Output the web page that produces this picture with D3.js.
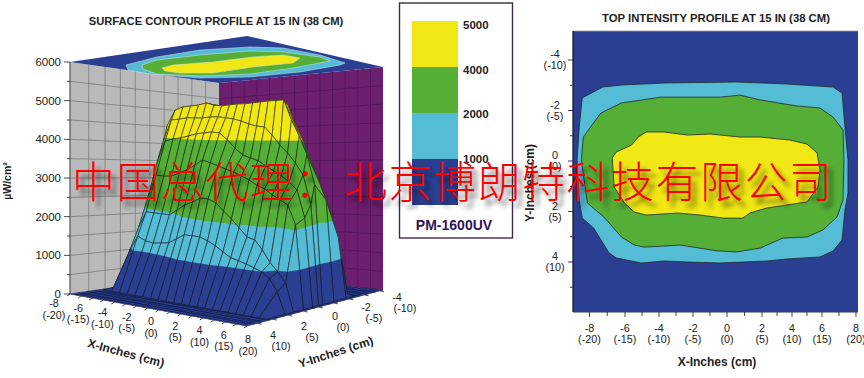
<!DOCTYPE html>
<html>
<head>
<meta charset="utf-8">
<title>PM-1600UV profile</title>
<style>
  html, body { margin: 0; padding: 0; background: #fff; }
  svg { display: block; }
  text { font-family: "Liberation Sans", Arial, sans-serif; fill: #222; }
</style>
<script src="https://d3js.org/d3.v7.min.js"></script>
</head>
<body>
<svg id="chart" width="864" height="378"></svg>
<script>
// ---- data ----
const xTicks = [-8, -6, -4, -2, 0, 2, 4, 6, 8];
const xCm = ["(-20)", "(-15)", "(-10)", "(-5)", "(0)", "(5)", "(10)", "(15)", "(20)"];
const yTicks3d = [-4, -2, 0, 2, 4];
const yCm3d = ["(-10)", "(-5)", "(0)", "(5)", "(10)"];
const zTicks = [0, 1000, 2000, 3000, 4000, 5000, 6000];
const legendLevels = [5000, 4000, 2000, 1000];
const bandLevels = [0, 1000, 2000, 4000, 99999];
const bandColors = ["#2b3f92", "#55bcd5", "#55ae35", "#f0e714"];

// surface mesh: z in uW/cm2 for each (row y, column x)
const surfaceX = [-7, -6.3, -5.6, -4.9, -4.2, -3.5, -2.8, -2.1, -1.4, -0.7, 0, 0.7, 1.4, 2.1, 2.8, 3.5, 4.2, 4.9, 5.6, 6.3, 7, 7.7];
const surfaceY = [3.2, 2.0, 1.45, 0.8, 0.2, -0.2, -0.45, -1.2, -2.0, -2.6];
const surfaceZ = [
  [0,0,0,0,0,0,0,0,0,0,0,0,0,0,0,0,0,0,0,0,0,0],
  [0,945,1340,1250,1230,1270,1310,1450,1590,1600,1610,1540,1450,1330,1210,1170,1120,1060,990,850,550,0],
  [0,1460,1910,1920,1930,1940,2100,2270,2380,2520,2530,2460,2290,2120,1930,1730,1690,1470,1170,970,720,0],
  [0,2210,2790,2800,2840,2950,3070,3230,3400,3360,3320,3270,3230,3170,3100,3000,2940,2820,2730,2630,2150,0],
  [0,3060,3610,3700,3760,3850,3940,4000,4060,4070,3930,3750,3610,3570,3530,3430,3340,3250,3130,2960,2270,0],
  [0,3560,4110,4170,4240,4270,4310,4370,4410,4420,4430,4410,4370,4350,4370,4190,3970,3800,3580,3300,2570,0],
  [0,3920,4340,4460,4520,4580,4670,4650,4670,4730,4790,4830,4890,4950,5010,5060,5110,4630,4250,3800,3060,0],
  [0,3710,4140,4280,4390,4450,4520,4550,4590,4620,4660,4720,4780,4850,4910,4890,4390,4030,3550,3070,2590,0],
  [0,3370,3800,4010,4130,4240,4280,4310,4350,4390,4420,4460,4490,4530,4490,3930,3480,2970,2570,2110,1530,0],
  [0,0,0,0,0,0,0,0,0,0,0,0,0,0,0,0,0,0,0,0,0,0]
];

// contours of the top-down plot, [x in, y in]
const contour1000 = [[-8.41,-2.5],[-7.25,-2.93],[-6.2,-3.01],[-3.71,-3.09],[0.57,-3.13],[3.67,-3.05],[6.65,-2.93],[7.18,-2.69],[7.35,-1.35],[7.53,-0.04],[7.53,1.27],[7.35,1.94],[7.18,3.13],[6.65,3.56],[5.87,3.8],[3.67,3.88],[2.33,3.96],[-0.41,4.04],[-2.32,4],[-3.71,3.96],[-5.04,4.04],[-6.49,3.84],[-6.9,3.64],[-7.77,2.65],[-8.41,2.26],[-8.58,1.54],[-8.7,-0.04],[-8.58,-1.35]];
const contour2000 = [[-8.35,-0.95],[-7.94,-1.35],[-7.36,-1.9],[-6.2,-2.3],[-3.88,-2.53],[-0.41,-2.53],[0.74,-2.61],[1.89,-2.42],[4.33,-2.18],[5.87,-2.1],[6.65,-1.74],[7.24,-1.23],[7.29,-0.04],[7.24,1.54],[6.88,2.22],[6.06,2.73],[5,3.01],[3.4,3.05],[1.89,3.45],[0.57,3.6],[-0.58,3.56],[-2.72,3.33],[-4.87,3.41],[-5.45,3.33],[-6.2,3.01],[-7.19,2.22],[-8.12,1.66],[-8.46,-0.04]];
const contour4000 = [[-6.72,-0.12],[-6.49,-0.36],[-5.62,-0.63],[-5.22,-0.95],[-4.75,-1.15],[-3.71,-1.15],[-2.32,-1.03],[-0.99,-1.07],[0.74,-0.95],[1.89,-0.95],[3.87,-0.83],[5,-0.67],[5.67,-0.32],[5.87,0.36],[5.73,1.03],[5,1.62],[3.67,1.74],[2.33,1.86],[1.31,2.06],[0.91,2.26],[-0.23,2.26],[-1.57,2.14],[-2.9,2.06],[-4.75,2.14],[-5.45,2.02],[-6.03,1.66],[-6.61,1.03]];

// the same map as it shows on the lid of the 3D box
const lidCorners = [[-8,1.08],[1.05,-5],[8,2.25],[-0.38,6]];
const lid1000 = [[-5.14,1.79],[-3.55,-0.09],[-1.35,-1.72],[1.2,-2.43],[2.89,-2.19],[4.78,-0.55],[6.06,1.32],[5.8,1.79],[3.76,3.42],[1.2,4.59],[-1.35,4.83],[-3.91,3.89],[-5.03,2.96]];
const lid2000 = [[-4.32,1.79],[-3.55,0.62],[-1.35,-0.55],[1.2,-1.49],[2.89,-1.26],[4.78,-0.09],[5.29,0.85],[3.4,2.49],[1.2,3.89],[-1.35,4.36],[-3.55,3.89],[-4.27,2.72]];
const lid4000 = [[-3.3,2.49],[-2.73,1.79],[-0.69,1.08],[1.35,-0.09],[2.89,-0.55],[3.76,0.15],[3.4,1.32],[1.35,2.25],[-0.69,3.66],[-2.38,3.66],[-3.14,3.19]];

const svg = d3.select("#chart");
const line = d3.line();
const closed = d3.line().curve(d3.curveLinearClosed);

// ---- 3D panel ----
const zScale = d3.scaleLinear().domain([0, 6000]).range([294, 62]);
const planXx = d3.scaleLinear().domain([-8, 8]).range([70, 247]);
const planXy = d3.scaleLinear().domain([-8, 8]).range([0, 32]);
const planYx = d3.scaleLinear().domain([4.7, -4.2]).range([0, 136]);
const planYy = d3.scaleLinear().domain([4.7, -4.2]).range([0, -36]);
const floorY = (x, y) => 294 + planXy(x) + planYy(y);
const project = (x, y, z) => [planXx(x) + planYx(y), zScale(z) - 294 + floorY(x, y)];
const pxPerUnit = (294 - 62) / 6000;

const leftWall = { x0: 70, x1: 219, top0: 62, top1: 83, bot0: 294, bot1: 272 };
const rightWall = { x0: 219, x1: 383, top0: 83, top1: 67, bot0: 272, bot1: 290 };
function wallPt(w, t, z) {
  const f = z / 6000;
  const top = w.top0 + (w.top1 - w.top0) * t, bot = w.bot0 + (w.bot1 - w.bot0) * t;
  return [w.x0 + (w.x1 - w.x0) * t, bot + (top - bot) * f];
}
function drawWall(w, fill, stroke, cols) {
  const g = svg.append("g");
  g.append("path").attr("fill", fill)
    .attr("d", closed([wallPt(w, 0, 0), wallPt(w, 0, 6000), wallPt(w, 1, 6000), wallPt(w, 1, 0)]));
  d3.range(500, 6000, 500).forEach(z => {
    g.append("path").attr("fill", "none").attr("stroke", stroke).attr("stroke-width", 0.7)
      .attr("d", line([wallPt(w, 0, z), wallPt(w, 1, z)]));
  });
  cols.forEach(t => {
    g.append("path").attr("fill", "none").attr("stroke", stroke).attr("stroke-width", 0.7)
      .attr("d", line([wallPt(w, t, 0), wallPt(w, t, 6000)]));
  });
}
const leftCols = d3.range(1, 10).map(i => Math.pow(i / 10, 0.9));
const rightCols = d3.range(1, 13).map(i => i / 13);
drawWall(leftWall, "#b9b9b9", "#747474", leftCols);
drawWall(rightWall, "#6c1f6f", "#4c1252", rightCols);

// lid of the box
const lidX = d3.scaleLinear().domain([-8, 8]).range([70, 383]);
const lidY = d3.scaleLinear().domain([-5, 6]).range([36, 83]);
const lidPath = pts => closed(pts.map(d => [lidX(d[0]), lidY(d[1])]));
svg.append("path").attr("d", lidPath(lidCorners)).attr("fill", bandColors[0]);
[lid1000, lid2000, lid4000].forEach((c, i) => {
  svg.append("path").attr("d", lidPath(c)).attr("fill", bandColors[i + 1])
    .attr("stroke", "#d8e4ee").attr("stroke-width", 0.5);
});

// floor
const floorCorners = [[-8, 4.7], [8, 4.7], [8, -4.2]].map(d => project(d[0], d[1], 0));
floorCorners.push([219, 272]);
const floorG = svg.append("g");
floorG.append("path").attr("d", closed(floorCorners)).attr("fill", bandColors[0]);
function floorPt(u, v) {
  const [a, b, c, d] = floorCorners;
  const p = [a[0] + (b[0] - a[0]) * u, a[1] + (b[1] - a[1]) * u];
  const q = [d[0] + (c[0] - d[0]) * u, d[1] + (c[1] - d[1]) * u];
  return [p[0] + (q[0] - p[0]) * v, p[1] + (q[1] - p[1]) * v];
}
d3.range(0, 1.001, 1 / 32).forEach(u => {
  floorG.append("path").attr("stroke", "#10183f").attr("stroke-width", 0.6).attr("fill", "none")
    .attr("d", line([floorPt(u, 0), floorPt(u, 1)]));
});
d3.range(0, 1.001, 1 / 18).forEach(v => {
  floorG.append("path").attr("stroke", "#10183f").attr("stroke-width", 0.6).attr("fill", "none")
    .attr("d", line([floorPt(0, v), floorPt(1, v)]));
});

// surface cells, back to front
function meshVertex(r, c) {
  const x = surfaceX[c], y = surfaceY[r], z = surfaceZ[r][c];
  const fy = floorY(x, y);
  // upper bands run flat across the face in the picture, so lean them to screen height
  const w = Math.max(0, Math.min(1, (z - 2000) / 2000));
  const p = project(x, y, z);
  return { x: p[0], y: p[1], fy: fy, lev: z + w * (295 - fy) / pxPerUnit };
}
function clipLevel(poly, level, keepAbove) {
  const out = [];
  poly.forEach((a, i) => {
    const b = poly[(i + 1) % poly.length];
    const ina = keepAbove ? a.lev >= level : a.lev <= level;
    const inb = keepAbove ? b.lev >= level : b.lev <= level;
    if (ina) out.push(a);
    if (ina !== inb) {
      const t = (level - a.lev) / (b.lev - a.lev);
      out.push({ x: a.x + (b.x - a.x) * t, y: a.y + (b.y - a.y) * t, lev: level });
    }
  });
  return out;
}
const cells = [];
for (let r = 0; r < surfaceY.length - 1; r++) {
  for (let c = 0; c < surfaceX.length - 1; c++) {
    const quad = [meshVertex(r, c), meshVertex(r, c + 1), meshVertex(r + 1, c + 1), meshVertex(r + 1, c)];
    cells.push({ quad: quad, depth: d3.mean(quad, d => d.fy) });
  }
}
cells.sort((a, b) => a.depth - b.depth);
const surfaceG = svg.append("g");
cells.forEach(cell => {
  bandColors.forEach((color, i) => {
    let poly = clipLevel(cell.quad, bandLevels[i], true);
    if (poly.length) poly = clipLevel(poly, bandLevels[i + 1], false);
    if (poly.length > 2) {
      surfaceG.append("path").attr("fill", color).attr("stroke", color).attr("stroke-width", 0.3)
        .attr("d", closed(poly.map(d => [d.x, d.y])));
    }
  });
  surfaceG.append("path").attr("fill", "none").attr("stroke", "#14181c").attr("stroke-width", 0.6)
    .attr("d", closed(cell.quad.map(d => [d.x, d.y])));
});

// 3D axes
svg.append("line").attr("x1", 70).attr("x2", 70).attr("y1", zScale(0)).attr("y2", zScale(6000))
  .attr("stroke", "#555").attr("stroke-width", 1.2);
d3.range(0, 6001, 500).forEach(z => {
  svg.append("line").attr("x1", z % 1000 ? 67 : 64).attr("x2", 70)
    .attr("y1", zScale(z)).attr("y2", zScale(z)).attr("stroke", "#333").attr("stroke-width", 0.9);
});
svg.selectAll(".ztick").data(zTicks).enter().append("text").attr("class", "ztick")
  .attr("x", 61).attr("y", d => zScale(d) + 4).attr("text-anchor", "end")
  .attr("font-size", 11.5).text(d => d);
svg.append("text").attr("transform", "translate(11,181) rotate(-90)").attr("text-anchor", "middle")
  .attr("font-size", 10.5).attr("font-weight", "bold").text("µW/cm²");

d3.range(-8, 8.01, 1).forEach(x => {
  const a = project(x, 4.7, 0);
  svg.append("line").attr("x1", a[0]).attr("y1", a[1]).attr("x2", a[0] - 3).attr("y2", a[1] + 2)
    .attr("stroke", "#222").attr("stroke-width", 0.8);
});
d3.range(-4, 4.01, 1).forEach(y => {
  const a = project(8, y, 0);
  svg.append("line").attr("x1", a[0]).attr("y1", a[1]).attr("x2", a[0] + 4).attr("y2", a[1] + 1)
    .attr("stroke", "#222").attr("stroke-width", 0.8);
});
const xLabelX = d3.scaleLinear().domain([-8, 8]).range([54, 248]);
const xLabelY = d3.scaleLinear().domain([-8, 8]).range([307, 343]);
xTicks.forEach((t, i) => {
  svg.append("text").attr("x", xLabelX(t)).attr("y", xLabelY(t)).attr("text-anchor", "middle").attr("font-size", 10.8).text(t);
  svg.append("text").attr("x", xLabelX(t)).attr("y", xLabelY(t) + 11.5).attr("text-anchor", "middle").attr("font-size", 10.8).text(xCm[i]);
});
const yLabelX = d3.scaleLinear().domain([-4, 4]).range([397, 273]);
const yLabelY = d3.scaleLinear().domain([-4, 4]).range([301, 339]);
yTicks3d.forEach((t, i) => {
  svg.append("text").attr("x", yLabelX(t)).attr("y", yLabelY(t)).attr("text-anchor", "middle").attr("font-size", 10.8).text(t);
  svg.append("text").attr("x", yLabelX(t) + 8).attr("y", yLabelY(t) + 11).attr("text-anchor", "middle").attr("font-size", 10.8).text(yCm3d[i]);
});
svg.append("text").attr("transform", "translate(125,357) rotate(15)").attr("text-anchor", "middle")
  .attr("font-size", 12).attr("font-weight", "bold").text("X-Inches (cm)");
svg.append("text").attr("transform", "translate(337,356) rotate(-18)").attr("text-anchor", "middle")
  .attr("font-size", 12).attr("font-weight", "bold").text("Y-Inches (cm)");
svg.append("text").attr("x", 216).attr("y", 25).attr("text-anchor", "middle")
  .attr("font-size", 11.2).attr("font-weight", "bold").text("SURFACE CONTOUR PROFILE AT 15 IN (38 CM)");

// ---- legend ----
const legendY = d3.scaleBand().domain(legendLevels).range([21, 205]);
const legendLabelY = d3.scalePoint().domain(legendLevels).range([29, 163]);
svg.append("rect").attr("x", 399.5).attr("y", 3).attr("width", 113).attr("height", 235)
  .attr("fill", "#fff").attr("stroke", "#3a2a55").attr("stroke-width", 1.4);
svg.selectAll(".swatch").data(legendLevels).enter().append("rect").attr("class", "swatch")
  .attr("x", 412).attr("width", 46).attr("y", d => legendY(d)).attr("height", legendY.bandwidth())
  .attr("fill", (d, i) => bandColors[3 - i]);
svg.selectAll(".lglabel").data(legendLevels).enter().append("text").attr("class", "lglabel")
  .attr("x", 463).attr("y", d => legendLabelY(d)).attr("font-size", 11.5).attr("font-weight", "bold").text(d => d);
svg.append("text").attr("x", 454).attr("y", 230).attr("text-anchor", "middle")
  .attr("font-size", 14).attr("font-weight", "bold").style("fill", "#2e1458").text("PM-1600UV");

// ---- top-down panel ----
const xPlot = d3.scaleLinear().domain([-8.93].concat(xTicks.slice(1, -1), [8.12]))
  .range([573, 625, 659, 693, 727, 762, 792, 822, 858]);
const yPlot = d3.scaleLinear().domain([-5.15, 6]).range([31, 312.5]);
const plotPath = pts => closed(pts.map(d => [xPlot(d[0]), yPlot(d[1])]));
svg.append("rect").attr("x", xPlot(-8.93)).attr("y", yPlot(-5.15))
  .attr("width", xPlot(8.12) - xPlot(-8.93)).attr("height", yPlot(6) - yPlot(-5.15))
  .attr("fill", bandColors[0]);
[contour1000, contour2000, contour4000].forEach((c, i) => {
  svg.append("path").attr("d", plotPath(c)).attr("fill", bandColors[i + 1])
    .attr("stroke", "#20282c").attr("stroke-width", 0.8);
});
svg.append("line").attr("x1", 573).attr("x2", 858).attr("y1", 31).attr("y2", 31).attr("stroke", "#999").attr("stroke-width", 0.8);
svg.append("line").attr("x1", 573).attr("x2", 573).attr("y1", 31).attr("y2", 312).attr("stroke", "#111").attr("stroke-width", 1.2);
svg.append("line").attr("x1", 573).attr("x2", 858).attr("y1", 312.5).attr("y2", 312.5).attr("stroke", "#999").attr("stroke-width", 0.8);

d3.range(-8, 8.01, 1).forEach(t => {
  svg.append("line").attr("x1", xPlot(t)).attr("x2", xPlot(t)).attr("y1", 312).attr("y2", t % 2 ? 316 : 317)
    .attr("stroke", "#333").attr("stroke-width", 0.9);
});
d3.range(-4, 5.01, 1).forEach(t => {
  svg.append("line").attr("x1", t % 2 ? 570 : 568).attr("x2", 573).attr("y1", yPlot(t)).attr("y2", yPlot(t))
    .attr("stroke", "#4a2a6a").attr("stroke-width", 1);
});
xTicks.forEach((t, i) => {
  svg.append("text").attr("x", xPlot(t)).attr("y", 332).attr("text-anchor", "middle").attr("font-size", 10.8).text(t);
  svg.append("text").attr("x", xPlot(t)).attr("y", 343).attr("text-anchor", "middle").attr("font-size", 10.8).text(xCm[i]);
});
yTicks3d.forEach((t, i) => {
  svg.append("text").attr("x", 555).attr("y", yPlot(t) - 2).attr("text-anchor", "middle").attr("font-size", 10.8).text(t);
  svg.append("text").attr("x", 555).attr("y", yPlot(t) + 9).attr("text-anchor", "middle").attr("font-size", 10.8).text(yCm3d[i]);
});
svg.append("text").attr("x", 717).attr("y", 366).attr("text-anchor", "middle")
  .attr("font-size", 12).attr("font-weight", "bold").text("X-Inches (cm)");
svg.append("text").attr("transform", "translate(534,183) rotate(-90)").attr("text-anchor", "middle")
  .attr("font-size", 12).attr("font-weight", "bold").text("Y-Inches (cm)");
svg.append("text").attr("x", 716).attr("y", 22).attr("text-anchor", "middle")
  .attr("font-size", 11.3).attr("font-weight", "bold").text("TOP INTENSITY PROFILE AT 15 IN (38 CM)");

// ---- red watermark with soft shadow ----
const defs = svg.append("defs");
const blur = defs.append("filter").attr("id", "wmshadow").attr("x", "-5%").attr("y", "-30%").attr("width", "110%").attr("height", "170%");
blur.append("feGaussianBlur").attr("stdDeviation", 2.6);
[["中国总代理：", 72], ["北京博朗特科技有限公司", 344]].forEach(d => {
  const put = () => svg.append("text").attr("x", d[1]).attr("y", 198)
    .style("font-family", '"Noto Sans CJK SC"').style("font-weight", 300)
    .attr("font-size", 43).attr("letter-spacing", 1.5).text(d[0]);
  put().attr("transform", "translate(5,6)").style("fill", "#000").attr("opacity", 0.55).attr("filter", "url(#wmshadow)");
  put().style("fill", "#f00");
});
</script>
</body>
</html>
